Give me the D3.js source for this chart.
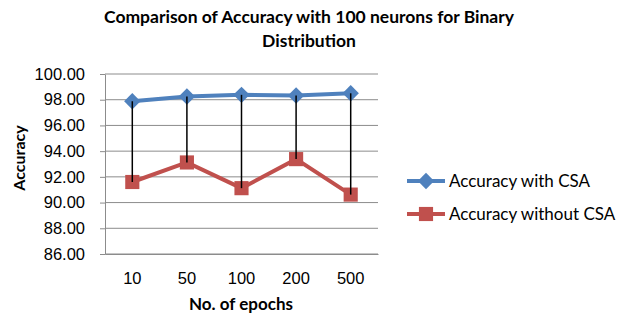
<!DOCTYPE html>
<html>
<head>
<style>
	body { margin: 0; background: white; }
	svg { font-family: Lato, "Open Sans", sans-serif; }
	.grid line { stroke: #8c8c8c; stroke-width: 1; }
	.axis path, .axis line { stroke: #8c8c8c; }
	.tick text { font-size: 16.5px; fill: #000; }
</style>
</head>
<body>
<svg width="624" height="320"></svg>

<script src="https://cdn.jsdelivr.net/npm/d3@7"></script>
<script>
const width = 624;
const height = 320;

// chart data
const epochs = ["10", "50", "100", "200", "500"];
const withCSA = [97.88, 98.25, 98.38, 98.33, 98.5];
const withoutCSA = [91.6, 93.12, 91.12, 93.38, 90.62];
const yTicks = [86, 88, 90, 92, 94, 96, 98, 100];
const seriesNames = ["Accuracy with CSA", "Accuracy without CSA"];

const margin = {left: 105, right: 246, top: 74, bottom: 66};

var svg = d3.select("svg");

var x = d3.scaleBand()
	.domain(epochs)
	.range([margin.left, width - margin.right]);

var y = d3.scaleLinear()
	.domain([86, 100])
	.range([height - margin.bottom, margin.top]);

var cx = d => x(d) + x.bandwidth() / 2;

// gridlines
svg.append("g")
	.attr("class", "grid")
	.selectAll("line")
	.data(yTicks)
	.enter()
	.append("line")
		.attr("x1", margin.left)
		.attr("x2", width - margin.right)
		.attr("y1", d => y(d))
		.attr("y2", d => y(d));

// y axis
svg.append("g")
	.attr("class", "axis")
	.attr("transform", "translate(" + margin.left + ",0)")
	.call(d3.axisLeft(y).tickValues(yTicks).tickSize(5).tickSizeOuter(0).tickPadding(15).tickFormat(d3.format(".2f")));

// x axis
svg.append("g")
	.attr("class", "axis")
	.attr("transform", "translate(0," + (height - margin.bottom) + ")")
	.call(d3.axisBottom(x).tickSize(0).tickSizeOuter(0).tickPadding(18));

var line = d3.line()
	.x((d, i) => cx(epochs[i]))
	.y(d => y(d));

svg.append("path")
	.datum(withoutCSA)
	.attr("d", line)
	.attr("fill", "none")
	.attr("stroke", "#c0504d")
	.attr("stroke-width", 4);

svg.append("path")
	.datum(withCSA)
	.attr("d", line)
	.attr("fill", "none")
	.attr("stroke", "#4f81bd")
	.attr("stroke-width", 4);

var diamond = d3.symbol().type(d3.symbolDiamond2).size(170);
var square = d3.symbol().type(d3.symbolSquare).size(200);

svg.append("g")
	.selectAll("path")
	.data(withoutCSA)
	.enter()
	.append("path")
		.attr("d", square)
		.attr("transform", (d, i) => "translate(" + cx(epochs[i]) + "," + y(d) + ")")
		.attr("fill", "#c0504d");

svg.append("g")
	.selectAll("path")
	.data(withCSA)
	.enter()
	.append("path")
		.attr("d", diamond)
		.attr("transform", (d, i) => "translate(" + cx(epochs[i]) + "," + y(d) + ")")
		.attr("fill", "#4f81bd");

// high-low lines, drawn over the markers
svg.append("g")
	.selectAll("line")
	.data(epochs)
	.enter()
	.append("line")
		.attr("x1", d => cx(d))
		.attr("x2", d => cx(d))
		.attr("y1", (d, i) => y(withCSA[i]))
		.attr("y2", (d, i) => y(withoutCSA[i]))
		.attr("stroke", "#000")
		.attr("stroke-width", 1.5);

// title
svg.append("text")
	.attr("x", 309)
	.attr("y", 23)
	.attr("text-anchor", "middle")
	.attr("font-weight", "bold")
	.attr("font-size", 17.5)
	.text("Comparison of Accuracy with 100 neurons for Binary");

svg.append("text")
	.attr("x", 309)
	.attr("y", 47)
	.attr("text-anchor", "middle")
	.attr("font-weight", "bold")
	.attr("font-size", 17.5)
	.text("Distribution");

// axis titles
svg.append("text")
	.attr("transform", "translate(25,158) rotate(-90)")
	.attr("text-anchor", "middle")
	.attr("font-weight", "bold")
	.attr("font-size", 16)
	.text("Accuracy");

svg.append("text")
	.attr("x", 241)
	.attr("y", 310)
	.attr("text-anchor", "middle")
	.attr("font-weight", "bold")
	.attr("font-size", 17)
	.text("No. of epochs");

// legend
var colors = ["#4f81bd", "#c0504d"];
var legend = svg.append("g")
	.selectAll("g")
	.data(seriesNames)
	.enter()
	.append("g")
		.attr("transform", (d, i) => "translate(407," + (181 + i * 33) + ")");

legend.append("line")
	.attr("x1", 0)
	.attr("x2", 38)
	.attr("stroke", (d, i) => colors[i])
	.attr("stroke-width", 4);

legend.append("path")
	.attr("d", (d, i) => i == 0 ? diamond() : square())
	.attr("transform", "translate(19,0)")
	.attr("fill", (d, i) => colors[i]);

legend.append("text")
	.attr("x", 42)
	.attr("dy", "0.35em")
	.attr("font-size", 17)
	.text(d => d);
</script>
</body>
</html>
